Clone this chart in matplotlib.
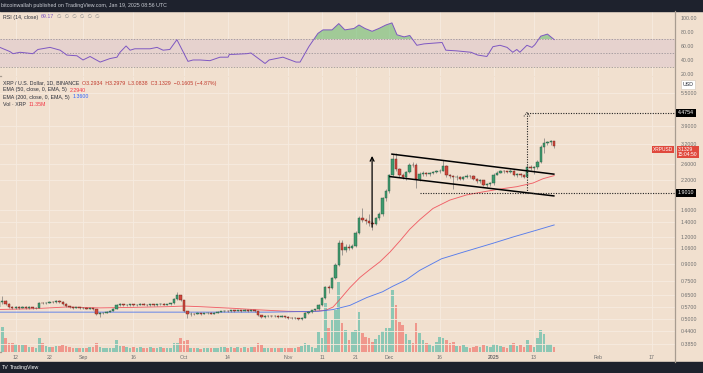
import numpy as np
import matplotlib.pyplot as plt
from matplotlib.lines import Line2D
from matplotlib.patches import Rectangle

plt.rcParams['font.family'] = ['Liberation Sans', 'DejaVu Sans']

start = np.datetime64('2024-08-07')

# daily candles XRP/USD, Aug 7 2024 .. Jan 19 2025 (open = previous close)
first_open = 0.570
close_aug = [0.600, 0.610, 0.590, 0.572, 0.565, 0.570, 0.566, 0.572, 0.565, 0.569, 0.563, 0.567, 0.598,
             0.593, 0.598, 0.603, 0.600, 0.608, 0.602, 0.588, 0.574, 0.570, 0.566, 0.568, 0.564]
high_aug = [0.620, 0.640, 0.615, 0.598, 0.578, 0.578, 0.575, 0.578, 0.575, 0.575, 0.572, 0.573, 0.604,
            0.604, 0.603, 0.608, 0.606, 0.615, 0.612, 0.605, 0.592, 0.578, 0.573, 0.573, 0.571]
low_aug = [0.565, 0.590, 0.580, 0.565, 0.556, 0.560, 0.558, 0.562, 0.558, 0.561, 0.557, 0.559, 0.563,
           0.586, 0.590, 0.594, 0.594, 0.598, 0.597, 0.583, 0.570, 0.565, 0.561, 0.562, 0.559]

close_sep = [0.566, 0.561, 0.562, 0.556, 0.530, 0.533, 0.537, 0.540, 0.548, 0.561, 0.580, 0.586, 0.580, 0.583, 0.586,
             0.581, 0.585, 0.590, 0.585, 0.582, 0.586, 0.581, 0.586, 0.590, 0.585, 0.587, 0.592, 0.620, 0.645, 0.612]
high_sep = [0.571, 0.569, 0.567, 0.566, 0.558, 0.538, 0.541, 0.545, 0.553, 0.566, 0.586, 0.592, 0.590, 0.588, 0.590,
            0.589, 0.590, 0.596, 0.593, 0.588, 0.591, 0.589, 0.590, 0.595, 0.592, 0.591, 0.597, 0.627, 0.665, 0.648]
low_sep = [0.559, 0.556, 0.556, 0.552, 0.522, 0.515, 0.528, 0.533, 0.538, 0.545, 0.558, 0.576, 0.575, 0.576, 0.579,
           0.577, 0.578, 0.582, 0.580, 0.577, 0.579, 0.577, 0.579, 0.583, 0.581, 0.581, 0.584, 0.588, 0.615, 0.605]

close_oct = [0.545, 0.528, 0.532, 0.530, 0.534, 0.530, 0.533, 0.535, 0.532, 0.537, 0.541, 0.545, 0.549, 0.545, 0.550,
             0.546, 0.550, 0.547, 0.551, 0.546, 0.550, 0.544, 0.522, 0.513, 0.518, 0.521, 0.516, 0.520, 0.515, 0.519, 0.514]
high_oct = [0.615, 0.548, 0.538, 0.536, 0.538, 0.537, 0.537, 0.539, 0.538, 0.541, 0.545, 0.549, 0.554, 0.552, 0.554,
            0.553, 0.555, 0.553, 0.556, 0.554, 0.555, 0.553, 0.546, 0.525, 0.522, 0.525, 0.523, 0.524, 0.522, 0.523, 0.521]
low_oct = [0.538, 0.510, 0.520, 0.524, 0.527, 0.525, 0.527, 0.529, 0.527, 0.530, 0.534, 0.538, 0.542, 0.541, 0.543,
           0.542, 0.544, 0.542, 0.545, 0.542, 0.544, 0.540, 0.516, 0.505, 0.510, 0.514, 0.511, 0.513, 0.510, 0.512, 0.509]

close_nov = [0.510, 0.506, 0.508, 0.501, 0.510, 0.535, 0.541, 0.550, 0.556, 0.582, 0.627, 0.705, 0.698, 0.775, 0.890,
             1.120, 1.040, 1.080, 1.070, 1.090, 1.250, 1.460, 1.440, 1.420, 1.390, 1.370, 1.460, 1.530, 1.800, 1.950]
high_nov = [0.518, 0.513, 0.512, 0.510, 0.514, 0.540, 0.546, 0.555, 0.561, 0.588, 0.635, 0.715, 0.720, 0.785, 0.905,
            1.160, 1.160, 1.110, 1.110, 1.110, 1.270, 1.500, 1.630, 1.470, 1.520, 1.420, 1.480, 1.560, 1.820, 1.980]
low_nov = [0.504, 0.500, 0.501, 0.495, 0.498, 0.506, 0.530, 0.536, 0.545, 0.552, 0.575, 0.620, 0.660, 0.690, 0.765,
           0.880, 0.990, 1.020, 1.040, 1.050, 1.080, 1.230, 1.400, 1.380, 1.340, 1.290, 1.360, 1.440, 1.500, 1.760]

close_dec = [2.30, 2.73, 2.46, 2.31, 2.27, 2.39, 2.58, 2.56, 2.22, 2.33, 2.35, 2.33, 2.36, 2.38, 2.40, 2.42,
             2.55, 2.30, 2.28, 2.26, 2.27, 2.22, 2.26, 2.29, 2.28, 2.22, 2.17, 2.18, 2.08, 2.09, 2.11]
high_dec = [2.34, 2.88, 2.90, 2.49, 2.36, 2.42, 2.62, 2.64, 2.62, 2.38, 2.40, 2.39, 2.39, 2.41, 2.43, 2.46,
            2.70, 2.58, 2.34, 2.31, 2.31, 2.29, 2.29, 2.33, 2.32, 2.30, 2.24, 2.22, 2.20, 2.12, 2.14]
low_dec = [1.90, 2.28, 2.40, 2.26, 2.22, 2.20, 2.37, 2.50, 2.02, 2.16, 2.29, 2.28, 2.29, 2.33, 2.35, 2.37,
           2.40, 2.26, 2.24, 2.00, 2.20, 2.18, 2.19, 2.23, 2.24, 2.19, 2.13, 2.13, 2.05, 2.03, 2.06]

close_jan = [2.32, 2.37, 2.41, 2.40, 2.39, 2.42, 2.30, 2.34, 2.31, 2.27, 2.52, 2.48, 2.50, 2.66, 3.12, 3.23,
             3.27, 3.2934, 3.1329]
high_jan = [2.35, 2.40, 2.44, 2.43, 2.42, 2.47, 2.44, 2.37, 2.36, 2.33, 2.57, 2.57, 2.54, 2.70, 3.16, 3.40,
            3.30, 3.34, 3.2979]
low_jan = [2.07, 2.30, 2.35, 2.37, 2.36, 2.37, 2.28, 2.27, 2.27, 2.24, 2.26, 2.43, 2.33, 2.47, 2.63, 2.92,
           3.18, 3.18, 3.0838]

# volume, millions of XRP
vol_aug = [57, 57, 32, 21, 21, 18, 16, 16, 16, 12, 12, 9, 32, 21, 14, 12, 12, 14, 14, 16, 14, 12, 9, 9, 9]
vol_sep = [9, 9, 12, 12, 21, 12, 9, 9, 9, 9, 28, 14, 14, 12, 9, 12, 9, 12, 9, 9, 12, 9, 9, 12, 9, 9, 9, 21, 21, 32]
vol_oct = [25, 28, 9, 9, 9, 7, 9, 9, 9, 9, 9, 12, 12, 9, 12, 9, 12, 9, 12, 9, 12, 12, 21, 16, 9, 9, 9, 9, 9, 9, 9]
vol_nov = [9, 9, 9, 12, 14, 21, 16, 12, 9, 46, 32, 113, 55, 74, 97, 161, 67, 51, 28, 46, 51, 92, 44, 35, 32,
           23, 30, 39, 48, 55]
vol_dec = [55, 143, 108, 69, 62, 41, 28, 21, 67, 44, 28, 21, 18, 14, 23, 35, 32, 28, 21, 23, 14, 14, 16, 12, 9,
           12, 14, 12, 16, 14, 12]
vol_jan = [18, 16, 14, 12, 9, 16, 21, 14, 16, 12, 28, 16, 12, 32, 51, 41, 18, 18, 11.35]

# indicators (day index from Aug 7, value)
ema50_days = [0, 10, 20, 30, 40, 50, 55, 60, 70, 75.5, 85.6, 91.5, 97, 99.3, 101.4, 104.3, 107.3, 110.3, 113.2,
              116.2, 119.2, 122.1, 125.1, 129, 134, 139, 143.8, 148.9, 153.9, 158.7, 161.7, 165]
ema50_vals = [0.555, 0.56, 0.57, 0.565, 0.568, 0.572, 0.576, 0.572, 0.562, 0.555, 0.545, 0.542, 0.55, 0.57, 0.62,
              0.70, 0.78, 0.85, 0.92, 1.02, 1.15, 1.30, 1.44, 1.62, 1.77, 1.87, 1.93, 1.99, 2.04, 2.12, 2.22, 2.294]
ema200_days = [0, 20, 40, 60, 80, 95, 99.3, 104.3, 109.3, 114, 117, 121, 125, 131.5, 138, 146.8, 153, 160, 165]
ema200_vals = [0.54, 0.54, 0.54, 0.54, 0.54, 0.545, 0.555, 0.58, 0.63, 0.67, 0.71, 0.76, 0.84, 0.95, 1.02,
               1.12, 1.20, 1.29, 1.36]

rsi_days = [0.3, 3.3, 4.2, 6.3, 10.1, 11.6, 15.2, 18.2, 20.2, 23.2, 25, 27.1, 30.1, 33, 35.1, 36, 37.8, 39, 40.4,
            44.9, 47, 48.8, 50.8, 52.9, 54.4, 56.2, 57.7, 59.8, 62.7, 65.7, 68.1, 68.5, 69.6, 73.7, 74.9, 79.1,
            80.3, 84.4, 88.3, 89.5, 92.1, 94.8, 96.3, 99, 101, 102.8, 105.5, 107, 108.8, 110.9, 112.9, 115,
            116.8, 118.3, 120.4, 122.1, 124.2, 126.3, 131.7, 132.8, 136.1, 140.3, 142.3, 145, 146.8, 148.9,
            151, 152.7, 153.9, 154.8, 156.9, 158.4, 159.3, 161, 163, 165]
rsi_vals = [58, 52, 49, 51, 49, 55, 58, 54, 47, 46, 40, 45, 37, 42, 44, 51, 60, 54, 56, 56, 58, 54, 55, 69, 55,
            38, 40, 40, 39, 44, 44, 48, 48, 49, 50, 35, 40, 44, 37, 37, 59, 78, 83, 83, 92, 83, 85, 90, 85, 81,
            85, 90, 93, 76, 73, 75, 61, 63, 65, 54, 53, 51, 47, 45, 59, 61, 58, 51, 55, 51, 61, 58, 62, 74, 77,
            69.17]

# drawings on the chart
channel_top = ([116.8, 164.9], [2.88, 2.33])
channel_bottom = ([116.2, 164.9], [2.27, 1.85])
pole = (110.9, 1.29, 2.91)
support_level, support_from = 1.9010, 125.1
target_level, target_from = 4.4754, 156.9

price_ticks = [0.385, 0.44, 0.5, 0.57, 0.65, 0.75, 0.9, 1.06, 1.2, 1.4, 1.6, 2.2, 2.6, 3.2, 3.9, 5.5]
rsi_ticks = [20, 40, 60, 80, 100]
tick_dates = ['2024-08-12', '2024-08-22', '2024-09-01', '2024-09-16', '2024-10-01', '2024-10-14', '2024-11-01',
              '2024-11-11', '2024-11-21', '2024-12-01', '2024-12-16', '2025-01-01', '2025-01-13', '2025-02-01',
              '2025-02-17']
tick_labels = ['12', '22', 'Sep', '16', 'Oct', '14', 'Nov', '11', '21', 'Dec', '16', '2025', '13', 'Feb', '17']

closes = np.array(close_aug + close_sep + close_oct + close_nov + close_dec + close_jan)
highs = np.array(high_aug + high_sep + high_oct + high_nov + high_dec + high_jan)
lows = np.array(low_aug + low_sep + low_oct + low_nov + low_dec + low_jan)
vols = np.array(vol_aug + vol_sep + vol_oct + vol_nov + vol_dec + vol_jan)
opens = np.concatenate([[first_open], closes[:-1]])
days = np.arange(len(closes))
up = closes >= opens
tick_days = (np.array(tick_dates, dtype='datetime64[D]') - start).astype(int)

BG = '#f1e0cf'
DARK = '#1e222d'
GRID = '#f6ebe0'
LINE = '#a89c90'
TXT = '#2a2e39'
AXT = '#6f6f6f'
FS = 3.8
W, H = 703, 373

fig = plt.figure(figsize=(W / 100, H / 100), dpi=100)
fig.patch.set_facecolor(BG)


def rect(x0, y0, x1, y1):
    return [x0 / W, 1 - y1 / H, (x1 - x0) / W, (y1 - y0) / H]


def pt(x, y):
    return x / W, 1 - y / H


fig.add_artist(Rectangle((0, 1 - 11 / H), 1, 11 / H, transform=fig.transFigure, color=DARK))
fig.add_artist(Rectangle((0, 0), 1, 11 / H, transform=fig.transFigure, color=DARK))
for xs, ys in [([0, 1], [76, 76]), ([0, 1], [352, 352]), ([675, 675], [11, 362])]:
    fig.add_artist(Line2D([x / W for x in xs], [1 - y / H for y in ys], color=LINE, lw=0.9))

ax_rsi = fig.add_axes(rect(0, 11, 675, 76))
ax_vol = fig.add_axes(rect(0, 77, 675, 352))
ax = fig.add_axes(rect(0, 77, 675, 352), sharex=ax_vol)
for a in (ax_rsi, ax_vol, ax):
    for s in a.spines.values():
        s.set_visible(False)
ax_rsi.set_facecolor(BG)
ax_vol.set_facecolor(BG)
ax.patch.set_visible(False)
ax_vol.set_zorder(0)
ax.set_zorder(1)
xlim = (0.34, 200.9)

# ---- RSI ----
ax_rsi.set_xlim(*xlim)
ax_rsi.set_ylim(17.1, 110)
for d in tick_days:
    ax_rsi.axvline(d, color=GRID, lw=0.6, zorder=0)
ax_rsi.axhspan(30, 70, color='#e6d2ce', lw=0, zorder=0.5)
for lvl in (30, 50, 70):
    ax_rsi.axhline(lvl, color='#8f8a8f', lw=0.5, ls=(0, (2, 2)), zorder=1)
rd = np.array(rsi_days)
rv = np.array(rsi_vals)
ax_rsi.fill_between(rd, 70, rv, where=rv > 70, interpolate=True, color='#5fb86a', alpha=0.55, lw=0, zorder=1)
ax_rsi.plot(rd, rv, color='#7e57c2', lw=0.7, zorder=2)
ax_rsi.set_xticks([])
ax_rsi.yaxis.tick_right()
ax_rsi.set_yticks(rsi_ticks)
ax_rsi.set_yticklabels([f'{v:.2f}' for v in rsi_ticks])
ax_rsi.tick_params(axis='y', length=0, pad=4, labelsize=FS, colors=AXT)

# ---- volume ----
ax_vol.set_ylim(0, 635)
for d in tick_days:
    ax_vol.axvline(d, color=GRID, lw=0.6, zorder=0)
ax_vol.bar(days, vols, width=0.78, color=np.where(up, '#8cc7b4', '#f0978c'), lw=0, zorder=1)
ax_vol.tick_params(labelbottom=False, labelleft=False, bottom=False, left=False)

# ---- price ----
ax.set_yscale('log')
ax.set_xlim(*xlim)
ax.set_ylim(0.354, 6.52)
for p in price_ticks:
    ax.axhline(p, color=GRID, lw=0.6, zorder=0)
ax.plot(ema50_days, ema50_vals, color='#f04a55', lw=0.65, alpha=0.85, zorder=2)
ax.plot(ema200_days, ema200_vals, color='#3d6bf0', lw=0.65, alpha=0.85, zorder=2)

ax.vlines(days, lows, highs, color='#707070', lw=0.45, zorder=3)
body = np.maximum(np.abs(closes - opens), closes * 0.004)
ax.bar(days, body, bottom=np.minimum(opens, closes), width=0.7,
       color=np.where(up, '#3f9b6e', '#d0473c'), edgecolor=np.where(up, '#23573f', '#6b221c'),
       lw=0.3, zorder=4)

# flag drawing
ax.plot(*channel_top, color='black', lw=1.1, zorder=5)
ax.plot(*channel_bottom, color='black', lw=1.1, zorder=5)
ax.annotate('', xy=(pole[0], pole[2]), xytext=(pole[0], pole[1]),
            arrowprops=dict(arrowstyle='->', color='black', lw=0.9, mutation_scale=7), zorder=5)
dot = (0, (1, 1.3))
ax.plot([support_from, xlim[1]], [support_level, support_level], color='#222', lw=0.8, ls=dot, zorder=5)
ax.plot([target_from, target_from], [support_level, target_level], color='#222', lw=0.8, ls=dot, zorder=5)
ax.plot([target_from, xlim[1]], [target_level, target_level], color='#222', lw=0.8, ls=dot, zorder=5)
ax.plot([target_from - 0.9, target_from, target_from + 0.9], [target_level * 0.96, target_level, target_level * 0.96],
        color='#222', lw=0.7, ls=dot, zorder=5)

ax.set_xticks(tick_days)
ax.set_xticklabels(tick_labels)
for lab in ax.get_xticklabels():
    if lab.get_text() == '2025':
        lab.set_fontweight('bold')
ax.tick_params(axis='x', length=0, pad=2, labelsize=FS, colors=AXT)
ax.yaxis.tick_right()
ax.set_yticks(price_ticks)
ax.set_yticklabels([f'{v:.4f}' for v in price_ticks])
ax.yaxis.set_minor_locator(plt.NullLocator())
ax.tick_params(axis='y', length=0, pad=4, labelsize=FS, colors=AXT)

# price-scale tags
tag = dict(ha='left', va='center', fontsize=FS)
fig.text(*pt(678, 113), f'{target_level:.4f}', color='white',
         bbox=dict(boxstyle='square,pad=0.3', fc='black', ec='none'), **tag)
fig.text(*pt(678, 193), f'{support_level:.4f}', color='white',
         bbox=dict(boxstyle='square,pad=0.3', fc='black', ec='none'), **tag)
fig.text(*pt(678, 152.5), f'{closes[-1]:.4f}\n15:04:50', color='white', linespacing=1.0,
         ha='left', va='center', fontsize=FS - 0.2,
         bbox=dict(boxstyle='square,pad=0.2', fc='#e0493d', ec='none'))
fig.text(*pt(673, 149.5), 'XRPUSD', color='white', ha='right', va='center', fontsize=FS - 0.3,
         bbox=dict(boxstyle='square,pad=0.25', fc='#e0493d', ec='none'))
fig.text(*pt(688, 84.5), 'USD', color=TXT, ha='center', va='center', fontsize=FS,
         bbox=dict(boxstyle='square,pad=0.35', fc='white', ec='#d0c4b8', lw=0.4))

# legends
renderer = fig.canvas.get_renderer()


def text_row(x, y, pieces):
    for s, c in pieces:
        t = fig.text(*pt(x, y), s, color=c, fontsize=FS, ha='left', va='center')
        x += t.get_window_extent(renderer=renderer).width + 3


text_row(1, 5.5, [('bitcoinwallah published on TradingView.com, Jan 19, 2025 08:56 UTC', '#c9ccd3')])
text_row(3, 17, [('RSI (14, close)', TXT), (f'{rsi_vals[-1]:.2f}', '#7e57c2'),
                 ('\u2205  \u2205  \u2205  \u2205  \u2205  \u2205', '#8a8a8a')])
text_row(3, 83, [('XRP / U.S. Dollar, 1D, BINANCE', TXT),
                 (f'O{opens[-1]:.4f}  H{highs[-1]:.4f}  L{lows[-1]:.4f}  C{closes[-1]:.4f}  '
                  f'\u2212{opens[-1] - closes[-1]:.4f} (\u2212{(opens[-1] - closes[-1]) / opens[-1] * 100:.2f}%)',
                  '#c0392b')])
text_row(3, 90, [('EMA (50, close, 0, EMA, 5)', TXT), (f'{ema50_vals[-1]:.4f}', '#f23645')])
text_row(3, 97, [('EMA (200, close, 0, EMA, 5)', TXT), (f'{ema200_vals[-1]:.4f}', '#2962ff')])
text_row(3, 104, [('Vol \u00b7 XRP', TXT), (f'{vols[-1]:.2f}M', '#f23645')])
text_row(2, 367.5, [('TV', 'white')])
text_row(10, 367.5, [('TradingView', 'white')])

fig.savefig('out.png', dpi=100, facecolor=fig.get_facecolor())
